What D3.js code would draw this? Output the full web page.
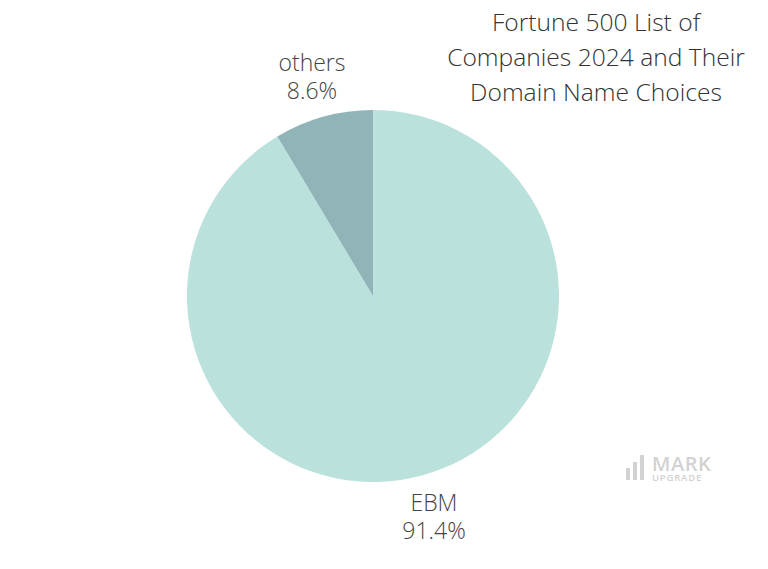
<!DOCTYPE html>
<html><head><meta charset="utf-8">
<script src="https://cdn.jsdelivr.net/npm/d3@7"></script>
<style>html,body{margin:0;padding:0;background:#fff;}</style>
</head><body>
<svg id="chart" width="768" height="569"></svg>
<script>
const categories = ["EBM", "others"];
const values = [91.4, 8.6];
const colors = ["#bbe1dc", "#90b4b8"];
const titleLines = ["Fortune 500 List of", "Companies 2024 and Their", "Domain Name Choices"];

const svg = d3.select("#chart");
const font = "'Open Sans', sans-serif";
const cx = 373, cy = 296, r = 186;

const pie = d3.pie().sort(null).value(d => d)(values);
const arc = d3.arc().innerRadius(0).outerRadius(r);
const g = svg.append("g").attr("transform", `translate(${cx},${cy})`);
g.selectAll("path").data(pie).join("path")
  .attr("d", arc).attr("fill", (d, i) => colors[i]);

// labels outside
const labelPos = [[434, 511], [312, 71]];
categories.forEach((c, i) => {
  const base = svg.append("g").attr("text-anchor", "middle")
    .attr("font-family", font).attr("font-weight", 300).attr("font-size", 23).attr("fill", "#444");
  base.append("text").attr("x", labelPos[i][0]).attr("y", labelPos[i][1]).text(c);
  base.append("text").attr("x", labelPos[i][0]).attr("y", labelPos[i][1] + 28).text(values[i].toFixed(1) + "%");
});

// title
const tg = svg.append("g").attr("text-anchor", "middle")
  .attr("font-family", font).attr("font-weight", 300).attr("font-size", 24.6).attr("fill", "#333");
titleLines.forEach((l, i) => tg.append("text").attr("x", 596).attr("y", 31 + i * 35).text(l));

// watermark
const wm = svg.append("g").attr("fill", "#d2d2d2");
[[626, 468, 4, 12], [633, 462, 4, 18], [640, 455, 4, 25]].forEach(b =>
  wm.append("rect").attr("x", b[0]).attr("y", b[1]).attr("width", b[2]).attr("height", b[3]));
wm.append("text").attr("x", 652).attr("y", 471).attr("font-family", font)
  .attr("font-size", 20).attr("font-weight", 600).attr("letter-spacing", 0.5).text("MARK");
wm.append("text").attr("x", 652).attr("y", 481).attr("font-family", font)
  .attr("font-size", 9.5).attr("font-weight", 600).attr("letter-spacing", 0.8).text("UPGRADE");
</script>
</body></html>
